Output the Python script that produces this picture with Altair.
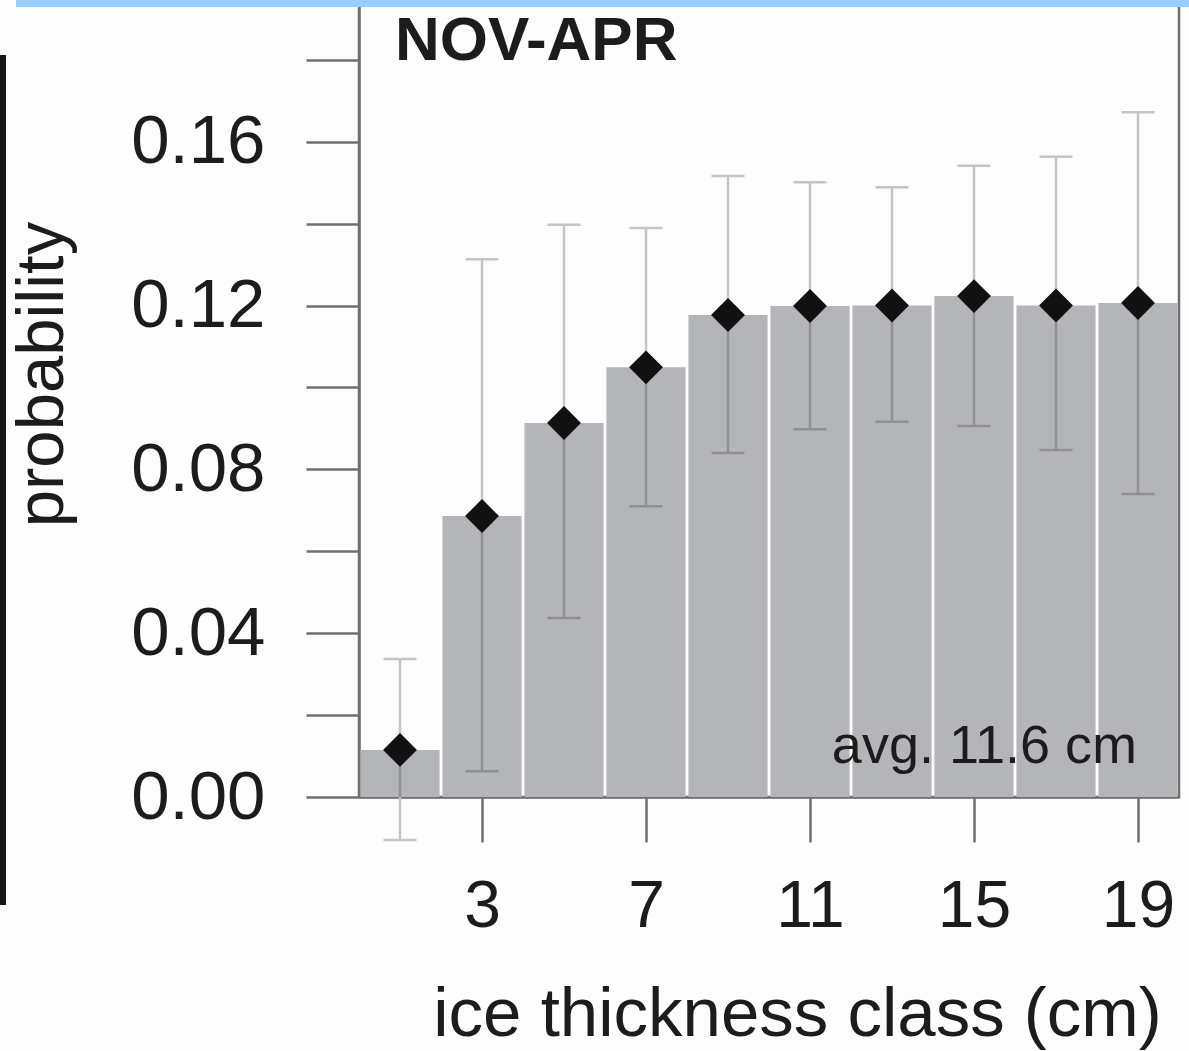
import altair as alt
import pandas as pd

# ---- data ----
classes = [1, 3, 5, 7, 9, 11, 13, 15, 17, 19]
prob = [0.0115, 0.0686, 0.0913, 0.1049, 0.1177, 0.1199, 0.1200, 0.1223, 0.1200, 0.1206]
err_low = [-0.0105, 0.0063, 0.0437, 0.0710, 0.0840, 0.0898, 0.0916, 0.0906, 0.0847, 0.0740]
err_high = [0.0337, 0.1313, 0.1397, 0.1389, 0.1516, 0.1501, 0.1489, 0.1541, 0.1563, 0.1672]
x_tick_values = [3, 7, 11, 15, 19]
y_tick_values = [0.0, 0.02, 0.04, 0.06, 0.08, 0.10, 0.12, 0.14, 0.16, 0.18]
panel_label = "NOV-APR"
avg_label = "avg. 11.6 cm"
x_title = "ice thickness class (cm)"
y_title = "probability"

half_w = 0.965  # half bar width (class width 2, small gap)

BAR = "#b4b5b9"
ERR_LIGHT = "#c3c5c9"
ERR_DARK = "#8e9094"
AXIS = "#6f6f6f"
TXT = "#1c1c1c"
FONT = "Liberation Sans"

df = pd.DataFrame({"x": classes, "prob": prob, "lo": err_low, "hi": err_high})
df["x0"] = df["x"] - half_w
df["x1"] = df["x"] + half_w
df["zero"] = 0.0
df["lo_in"] = df["lo"].clip(lower=0)
df["lo_out"] = df["lo"].clip(upper=0)
df["lo_col"] = [ERR_DARK if v > 0 else ERR_LIGHT for v in df["lo"]]

xscale = alt.Scale(domain=[0, 20], nice=False, zero=False)
yscale = alt.Scale(domain=[0, 0.1946], nice=False, zero=False)

xaxis = alt.Axis(
    values=x_tick_values, tickSize=45, tickWidth=2.5, tickColor=AXIS,
    domainColor=AXIS, domainWidth=2.5, grid=False,
    labelFont=FONT, labelFontSize=66, labelColor=TXT, labelPadding=32,
    titleFont=FONT, titleFontSize=69, titleFontWeight="normal", titleColor=TXT,
    titleX=438, titleY=238, titleBaseline="alphabetic", titleAlign="center",
)
yaxis = alt.Axis(
    values=y_tick_values, tickSize=53, tickWidth=2.5, tickColor=AXIS,
    domainColor=AXIS, domainWidth=2.5, grid=False,
    labelExpr="round(datum.value*100) % 4 == 0 ? format(datum.value, '.2f') : ''",
    labelFont=FONT, labelFontSize=69, labelColor=TXT, labelPadding=41,
    titleFont=FONT, titleFontSize=67, titleFontWeight="normal", titleColor=TXT,
    titleX=-297, titleY=374, titleAngle=270, titleBaseline="alphabetic", titleAlign="center",
)

base = alt.Chart(df)

bars = base.mark_rect(color=BAR).encode(
    x=alt.X("x0:Q", scale=xscale, axis=xaxis, title=x_title),
    x2="x1:Q",
    y=alt.Y("zero:Q", scale=yscale, axis=yaxis, title=y_title),
    y2="prob:Q",
)

upper = base.mark_rule(color=ERR_LIGHT, strokeWidth=2.5).encode(
    x=alt.X("x:Q", scale=xscale, axis=xaxis, title=x_title),
    y=alt.Y("prob:Q", scale=yscale, axis=yaxis, title=y_title),
    y2="hi:Q",
)
lower_in = base.mark_rule(color=ERR_DARK, strokeWidth=2.5).encode(
    x=alt.X("x:Q", scale=xscale, axis=xaxis, title=x_title),
    y=alt.Y("lo_in:Q", scale=yscale, axis=yaxis, title=y_title),
    y2="prob:Q",
)
lower_out = base.mark_rule(color=ERR_LIGHT, strokeWidth=2.5).encode(
    x=alt.X("x:Q", scale=xscale, axis=xaxis, title=x_title),
    y=alt.Y("lo_out:Q", scale=yscale, axis=yaxis, title=y_title),
    y2="zero:Q",
)
cap_hi = base.mark_tick(orient="horizontal", size=33, thickness=2.5, color=ERR_LIGHT, opacity=1).encode(
    x=alt.X("x:Q", scale=xscale, axis=xaxis, title=x_title),
    y=alt.Y("hi:Q", scale=yscale, axis=yaxis, title=y_title),
)
cap_lo = base.mark_tick(orient="horizontal", size=33, thickness=2.5, opacity=1).encode(
    x=alt.X("x:Q", scale=xscale, axis=xaxis, title=x_title),
    y=alt.Y("lo:Q", scale=yscale, axis=yaxis, title=y_title),
    color=alt.Color("lo_col:N", scale=None),
)
points = base.mark_point(shape="diamond", filled=True, color="#111111", size=1150, opacity=1).encode(
    x=alt.X("x:Q", scale=xscale, axis=xaxis, title=x_title),
    y=alt.Y("prob:Q", scale=yscale, axis=yaxis, title=y_title),
)

ann = pd.DataFrame({"t": [panel_label]})
panel_txt = alt.Chart(ann).mark_text(
    font=FONT, fontSize=62, fontWeight="bold", color=TXT, align="left", baseline="alphabetic"
).encode(text="t:N", x=alt.value(36), y=alt.value(60))

ann2 = pd.DataFrame({"t": [avg_label]})
avg_txt = alt.Chart(ann2).mark_text(
    font=FONT, fontSize=54, color=TXT, align="right", baseline="alphabetic"
).encode(text="t:N", x=alt.value(778), y=alt.value(763))

# cropping artefacts visible in the reference (neighbouring panel edges)
blue_strip = alt.Chart(ann).mark_rect(color="#99ccff").encode(
    x=alt.value(-343), x2=alt.value(830), y=alt.value(0), y2=alt.value(7)
)
black_strip = alt.Chart(ann).mark_rect(color="#161616").encode(
    x=alt.value(-359), x2=alt.value(-353), y=alt.value(55), y2=alt.value(905)
)

chart = alt.layer(
    bars, lower_in, lower_out, upper, cap_hi, cap_lo, points, panel_txt, avg_txt,
    blue_strip, black_strip,
).properties(
    width=820, height=797,
    autosize=alt.AutoSizeParams(type="none"),
    padding={"left": 359, "top": 0, "right": 10, "bottom": 254},
).configure(
    background="#fdfdfd",
).configure_view(
    stroke=AXIS, strokeWidth=2.5, fill="#fdfdfd",
)

chart.save("out.html", embed_options={"renderer": "svg", "actions": False})
